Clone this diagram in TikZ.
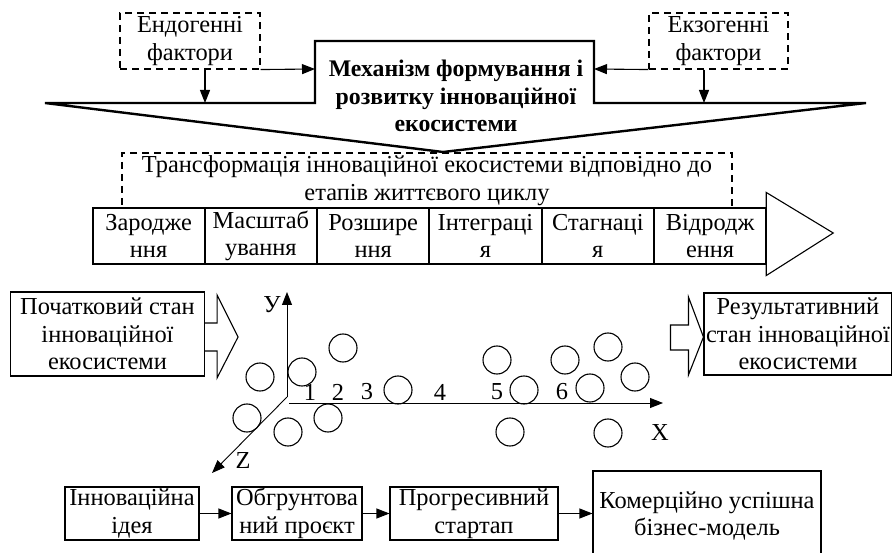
\documentclass[tikz,border=0pt]{standalone}
\usepackage{fontspec}
\setmainfont{Liberation Serif}
\usetikzlibrary{arrows.meta,positioning,calc}

\begin{document}
\begin{tikzpicture}[
  x=1pt, y=-1pt,
  line width=1.1pt,
  >={Triangle[length=13pt,width=10pt]},
  every node/.style={font=\fontsize{24.4}{27.5}\selectfont},
  box/.style={
    draw,
    align=center,
    inner sep=0pt
    },
  dbox/.style={box, dash pattern=on 7pt off 5pt},
  cell/.style={box, minimum width=111.2pt, minimum height=56pt},
  ball/.style={draw, circle, minimum size=28pt, inner sep=0pt},
  num/.style={inner sep=0pt}
]
\useasboundingbox (0,0) rectangle (892,553);

% factors and mechanism
\node [dbox, minimum width=140pt, minimum height=56pt] (endo) at (190,41) {Ендогенні\\фактори};
\node [dbox, minimum width=139pt, minimum height=56pt] (exo) at (718.5,41) {Екзогенні\\фактори};
\draw [line width=2.4pt] (45,103) -- (315,103) -- (315,41) -- (594,41) -- (594,103) -- (866,103) -- (443,152) -- cycle;
\node [align=center, font=\fontsize{23.8}{27.5}\selectfont\bfseries] (mech) at (456,96)
  {Механізм формування і\\розвитку інноваційної\\екосистеми};
\coordinate (mL) at (315,69);
\coordinate (mR) at (594,69);
\coordinate (fL) at (205,103);
\coordinate (fR) at (704,103);
\draw [->] (endo.south east) -- (mL);
\draw [->] (endo.south -| fL) -- (fL);
\draw [->] (exo.south west) -- (mR);
\draw [->] (exo.south -| fR) -- (fR);

% life cycle stages
\node [dbox, minimum width=610pt, minimum height=55pt] (trans) at (427,180.5)
  {Трансформація інноваційної екосистеми відповідно до\\етапів життєвого циклу};
\node [cell] (s1) at (148.6,236) {Зародже\\ння};
\node [cell, right=0pt of s1] (s2) {Масштаб\\ування};
\node [cell, right=0pt of s2] (s3) {Розшире\\ння};
\node [cell, right=0pt of s3] (s4) {Інтеграці\\я};
\node [cell, right=0pt of s4] (s5) {Стагнаці\\я};
\node [cell, right=0pt of s5] (s6) {Відродж\\ення};
\draw ($(s6.north east)+(0,-15)$) -- ($(s6.east)+(67,-3)$) -- ($(s6.south east)+(0,11)$) -- cycle;

% initial and resulting state
\node [box, minimum width=194pt, minimum height=84pt] (init) at (107.5,334)
  {Початковий стан\\інноваційної\\екосистеми};
\draw (init.east) ++(0,-11) -- ++(12,0) -- ++(0,-28) -- ++(21,42) -- ++(-21,41) -- ++(0,-27) -- ++(-12,0);
\node [box, minimum width=188pt, minimum height=82pt] (res) at (798,334)
  {Результативний\\стан інноваційної\\екосистеми};
\draw (res.west) ++(-33,-9) -- ++(18,0) -- ++(0,-28) -- ++(15,40) -- ++(-15,38) -- ++(0,-25) -- ++(-18,0) -- cycle;

% axes
\coordinate (O) at (287,397);
\coordinate (Ox) at (289,403);
\coordinate (Yend) at (287,292);
\coordinate (Xend) at (663,403);
\coordinate (Zend) at (212,473);
\draw [->, line width=0.9pt] (O) -- (Yend);
\draw [->, line width=0.9pt] (Ox) -- (Xend);
\draw [->, line width=0.9pt] (O) -- (Zend);
\node (ly) at (272,305) {У};
\node (lx) at (660,433) {X};
\node (lz) at (243,461) {Z};
\foreach \n/\px in {1/310,2/338,3/367,4/440,5/497,6/562}
  \node [num] (n\n) at (\px,392) {\n};
\foreach \bx/\by [count=\i] in {260/377,302/372,343/348,247/418,288/432,328/418,398/390,
    497/360,524/390,565/360,608/347,635/377,590/388,510/432,608/433}
  \node [ball] (c\i) at (\bx,\by) {};

% development path
\node [box, minimum width=134pt, minimum height=53pt] (idea) at (132,513.5) {Інноваційна\\ідея};
\node [box, minimum width=130pt, minimum height=53pt] (proj) at (297,513.5) {Обгрунтова\\ний проєкт};
\node [box, minimum width=168pt, minimum height=53pt] (start) at (474,513.5) {Прогресивний\\стартап};
\node [box, minimum width=228pt, minimum height=90pt] (model) at (707,516) {Комерційно успішна\\бізнес-модель};
\draw [->] (idea) -- (proj);
\draw [->] (proj) -- (start);
\draw [->] (start.east) -- (start.east -| model.west);

\end{tikzpicture}
\end{document}
